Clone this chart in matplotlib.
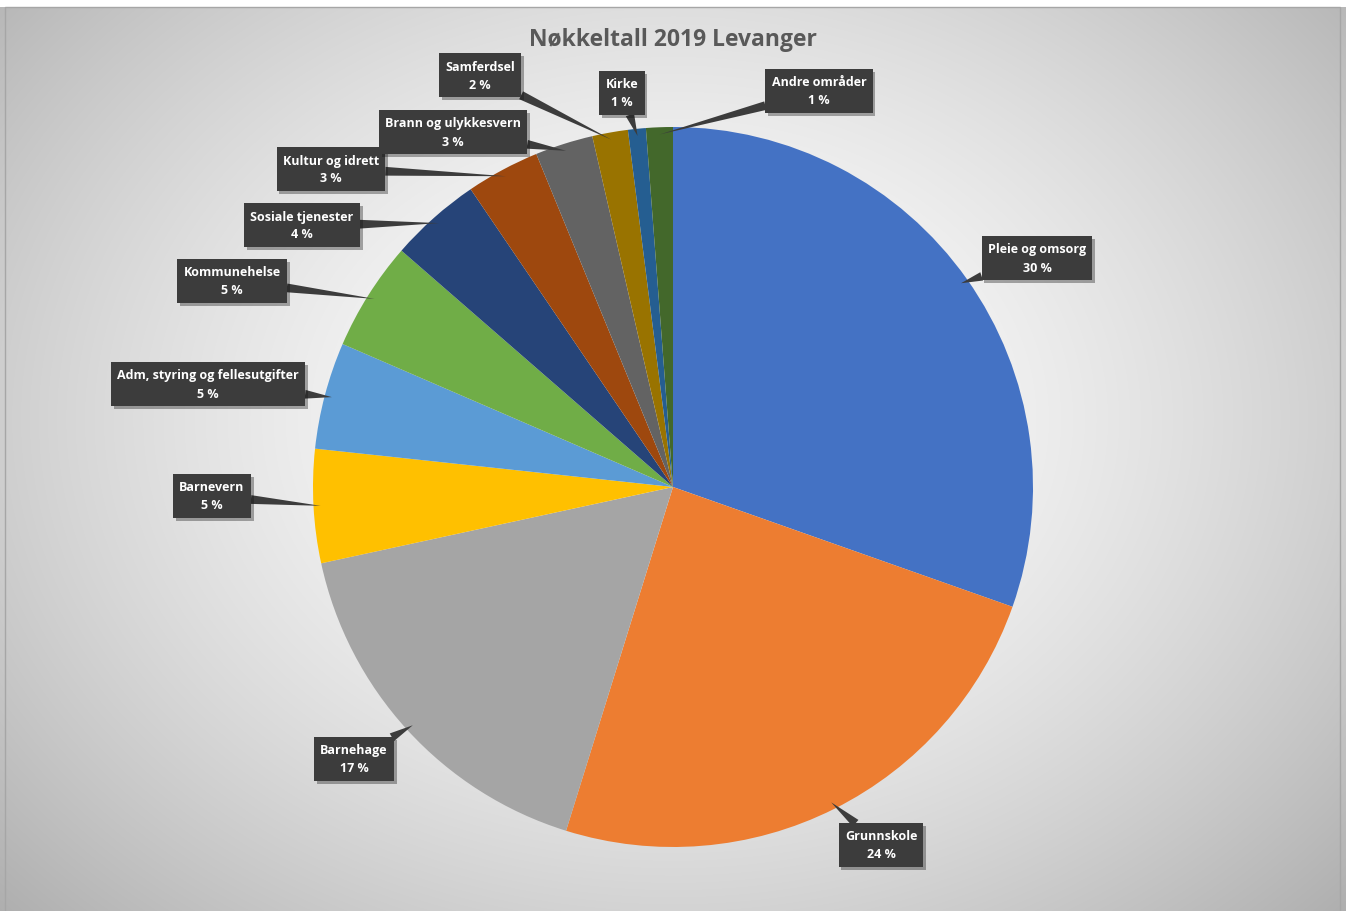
import numpy as np
import matplotlib
matplotlib.use("Agg")
import matplotlib.pyplot as plt
import matplotlib.patheffects as pe

plt.rcParams['font.family'] = ['Open Sans', 'DejaVu Sans']

# data (andel av netto driftsutgifter, prosent)
categories = ['Pleie og omsorg', 'Grunnskole', 'Barnehage', 'Barnevern',
              'Adm, styring og fellesutgifter', 'Kommunehelse', 'Sosiale tjenester',
              'Kultur og idrett', 'Brann og ulykkesvern', 'Samferdsel', 'Kirke',
              'Andre områder']
shares = [30.4, 24.4, 16.8, 5.1, 4.8, 4.9, 4.1, 3.3, 2.6, 1.6, 0.8, 1.2]
colors = ['#4472C4', '#ED7D31', '#A5A5A5', '#FFC000', '#5B9BD5', '#70AD47',
          '#264478', '#9E480E', '#636363', '#997300', '#255E91', '#43682B']

# label box centres in pixels (x from left, y from top)
label_px = [(1037, 259), (881, 846), (354, 760), (212, 497), (208, 385),
            (232, 282), (302, 226), (331, 170), (453, 133), (480, 76),
            (622, 94), (819, 92)]

W, H = 1346, 912
cx, cy, R = 673, 488, 360

fig = plt.figure(figsize=(W / 100, H / 100), dpi=100)

# background gradient
bg = fig.add_axes([0, 0, 1, 1])
yy, xx = np.mgrid[0:H, 0:W]
d = np.sqrt(((xx - 673) / 800.0) ** 2 + ((yy - 420) / 620.0) ** 2)
g = 1.0 - 0.25 * np.clip(d, 0, 1.2) ** 1.6
img = np.dstack([g, g, g])
img[:8, :, :] = 1.0
bg.imshow(img, extent=[0, W, H, 0], aspect='auto', interpolation='bilinear')
bg.plot([5, 5, 1340, 1340], [912, 8, 8, 912], color='#a6a6a6', lw=1)
bg.set_xlim(0, W)
bg.set_ylim(H, 0)
bg.axis('off')

ax = fig.add_axes([0, 0, 1, 1])
ax.patch.set_alpha(0)
wedges, _ = ax.pie(shares, colors=colors, startangle=90, counterclock=False,
                   radius=1, center=(0, 0), wedgeprops=dict(linewidth=0))
ax.set_xlim(-cx / R, (W - cx) / R)
ax.set_ylim(-(H - cy) / R, cy / R)
ax.set_aspect('equal')
ax.axis('off')

for w, name, val, (px, py) in zip(wedges, categories, shares, label_px):
    mid = np.deg2rad((w.theta1 + w.theta2) / 2)
    tip = (0.98 * np.cos(mid), 0.98 * np.sin(mid))
    lx, ly = (px - cx) / R, (cy - py) / R
    ax.annotate('%s\n%.0f %%' % (name, val), xy=tip, xytext=(lx, ly),
                ha='center', va='center', color='white', fontsize=9,
                fontweight='bold', linespacing=1.5,
                bbox=dict(boxstyle='square,pad=0.5', fc='#3c3c3c', ec='none',
                          path_effects=[pe.withSimplePatchShadow(offset=(2, -2), alpha=0.35)]),
                arrowprops=dict(arrowstyle='wedge,tail_width=0.7,shrink_factor=0.5',
                                fc='#3c3c3c', ec='none', shrinkA=0, shrinkB=0))

fig.text(0.5, 1 - 40 / H, 'Nøkkeltall 2019 Levanger', ha='center', va='center',
         fontsize=16.5, fontweight='bold', color='#595959')

fig.savefig('out.png', dpi=100)
